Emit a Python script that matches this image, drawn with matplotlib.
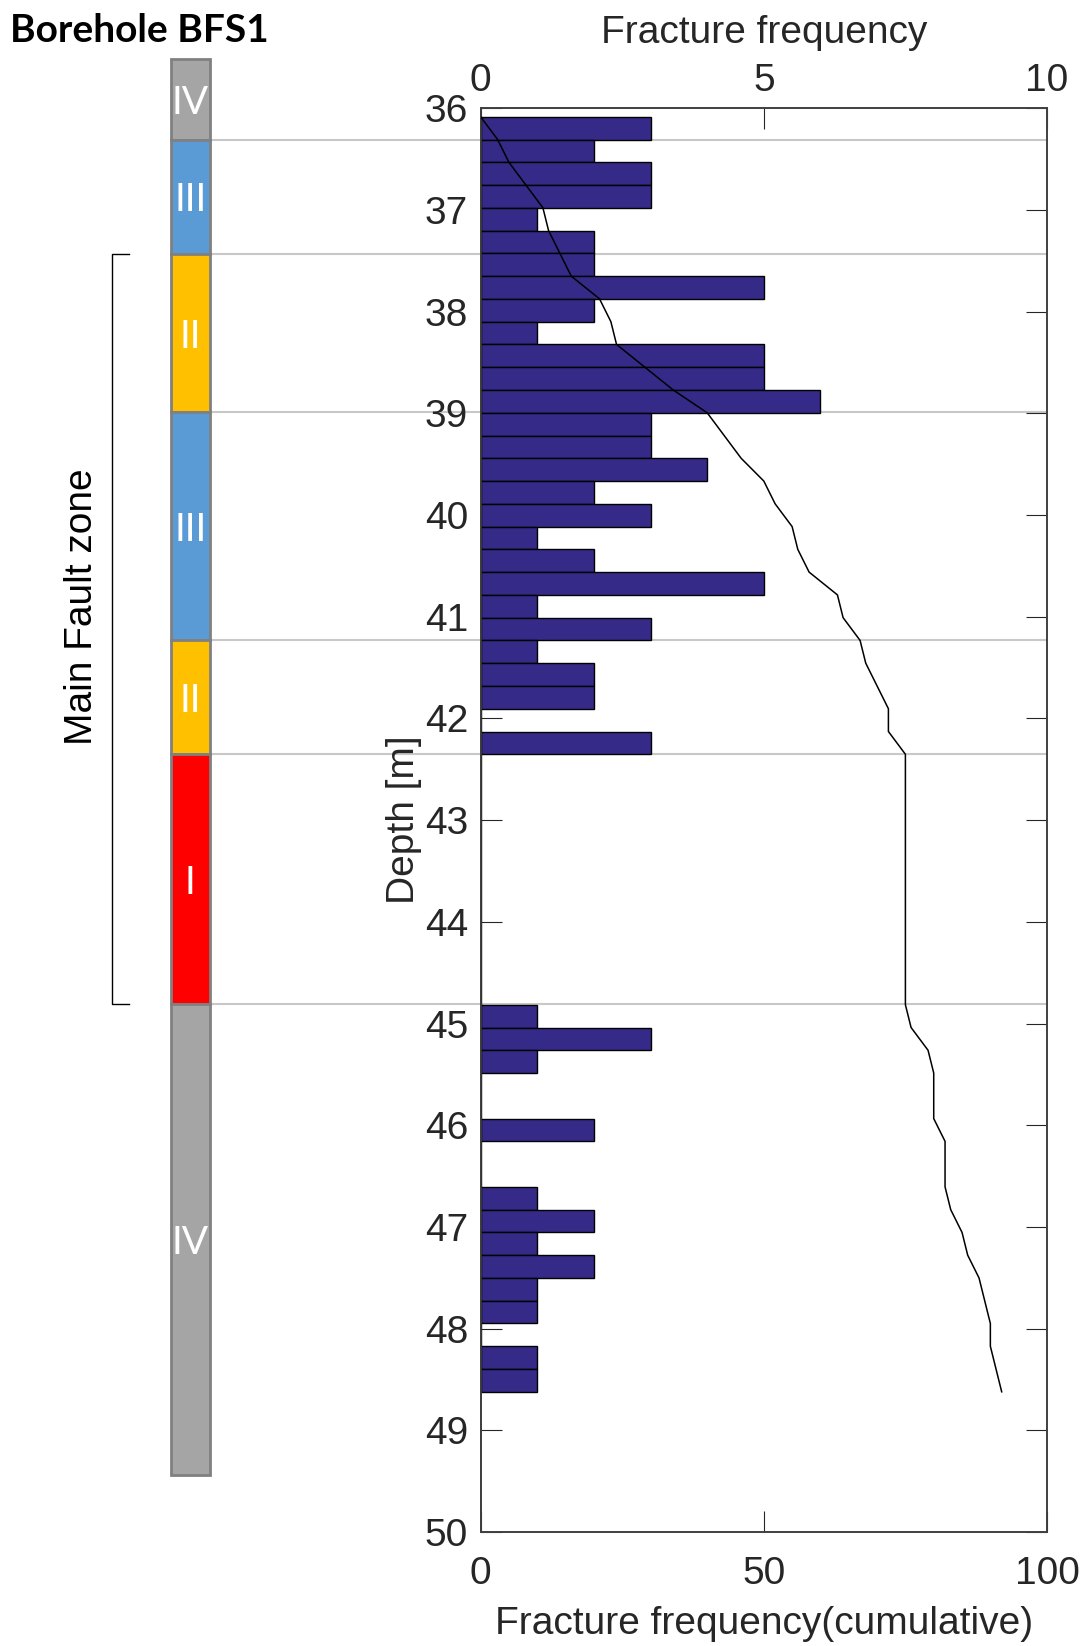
import numpy as np
import matplotlib
matplotlib.use("Agg")
import matplotlib.pyplot as plt

plt.rcParams['font.family'] = ['Liberation Sans', 'DejaVu Sans']

# fracture counts per depth bin (top to bottom)
bin_top = 36.083
bin_width = 0.2239
counts = [3, 2, 3, 3, 1, 2, 2, 5, 2, 1, 5, 5, 6,
          3, 3, 4, 2, 3, 1, 2, 5, 1, 3, 1, 2, 2, 0, 3,
          0, 0, 0, 0, 0, 0, 0, 0, 0, 0, 0,
          1, 3, 1, 0, 0, 2, 0, 0, 1, 2, 1, 2, 1, 1, 0, 1, 1]

# zone column (quality classes)
zone_top = [35.52, 36.31, 37.43, 38.99, 41.23, 42.35, 44.81]
zone_bottom = [36.31, 37.43, 38.99, 41.23, 42.35, 44.81, 49.44]
zone_label = ['IV', 'III', 'II', 'III', 'II', 'I', 'IV']
zone_color = {'I': '#FF0000', 'II': '#FFC000', 'III': '#5B9BD5', 'IV': '#A5A5A5'}
boundaries = [36.31, 37.43, 38.99, 41.23, 42.35, 44.81]
fault_zone = (37.43, 44.81)

depth_ticks = np.arange(36, 51, 1)
freq_ticks = [0, 5, 10]
cum_ticks = [0, 50, 100]

W, H = 1083, 1646
fig = plt.figure(figsize=(W / 100, H / 100), dpi=100)

ax_l, ax_r, ax_t, ax_b = 480.6, 1047, 108.3, 1532
ax = fig.add_axes([ax_l / W, 1 - ax_b / H, (ax_r - ax_l) / W, (ax_b - ax_t) / H])
ax2 = ax.twiny()

ax.set_ylim(50, 36)
ax.set_xlim(0, 10)

edges = bin_top + bin_width * np.arange(len(counts) + 1)
ax.barh(edges[:-1], counts, height=bin_width, align='edge',
        color='#352A87', edgecolor='black', linewidth=1, zorder=3)

# zone boundary lines running from the strip into the plot
ax.hlines(boundaries, (210 - ax_l) / (ax_r - ax_l), 1,
          transform=ax.get_yaxis_transform(), colors='#C8C8C8',
          linewidth=1.5, clip_on=False, zorder=1)

ax.xaxis.tick_top()
ax.xaxis.set_label_position('top')
ax.set_xticks(freq_ticks)
ax.set_yticks(depth_ticks)
ax.tick_params(axis='x', direction='in', length=15, width=0.8, labelsize=28,
               pad=7, colors='#262626', bottom=False, labelbottom=False)
ax.tick_params(axis='y', direction='in', length=15, width=0.8, labelsize=28,
               pad=9, colors='#262626', right=True)
ax.set_xlabel('Fracture frequency', fontsize=28, color='#262626', labelpad=14)
ax.set_ylabel('Depth [m]', fontsize=28, color='#262626', labelpad=2)

ax2.xaxis.tick_bottom()
ax2.xaxis.set_label_position('bottom')
ax2.set_xlim(0, 100)
ax2.set_xticks(cum_ticks)
ax2.tick_params(axis='x', direction='in', length=15, width=0.8, labelsize=28,
                pad=17, colors='#262626', top=False, labeltop=False)
ax2.set_xlabel('Fracture frequency(cumulative)', fontsize=28, color='#262626',
               labelpad=10)
cum = np.concatenate([[0], np.cumsum(counts)])
ax2.plot(cum, edges, color='black', linewidth=1.1, zorder=4)

for a in (ax, ax2):
    for s in a.spines.values():
        s.set_color('#404040')
        s.set_linewidth(1.2)
    a.set_facecolor('none')
ax.spines['left'].set_color('#202020')

# quality zone strip
sx_l, sx_r = 170.5, 210
strip = fig.add_axes([sx_l / W, 1 - ax_b / H, (sx_r - sx_l) / W, (ax_b - ax_t) / H])
strip.set_ylim(50, 36)
strip.set_xlim(0, 1)
strip.axis('off')
for top, bot, lab in zip(zone_top, zone_bottom, zone_label):
    strip.bar(0.5, bot - top, bottom=top, width=1, color=zone_color[lab],
              edgecolor='#808080', linewidth=2, clip_on=False)
    strip.text(0.5, (top + bot) / 2, lab, color='white', fontsize=28,
               family=['Lato', 'DejaVu Sans'], ha='center', va='center_baseline',
               clip_on=False)

# main fault zone bracket
bx0 = (111.7 - ax_l) / (ax_r - ax_l)
bx1 = (129.3 - ax_l) / (ax_r - ax_l)
ax.plot([bx1, bx0, bx0, bx1], [fault_zone[0], fault_zone[0], fault_zone[1], fault_zone[1]],
        color='black', linewidth=1, transform=ax.get_yaxis_transform(), clip_on=False)
ax.text((82 - ax_l) / (ax_r - ax_l), 40.9, 'Main Fault zone', rotation=90,
        fontsize=28, ha='center', va='center', color='black',
        transform=ax.get_yaxis_transform())

fig.text(10.5 / W, 1 - 31 / H, 'Borehole BFS1', fontsize=28, fontweight='bold',
         family=['Lato', 'DejaVu Sans'], ha='left', va='center')

fig.savefig('out.png', dpi=100)
